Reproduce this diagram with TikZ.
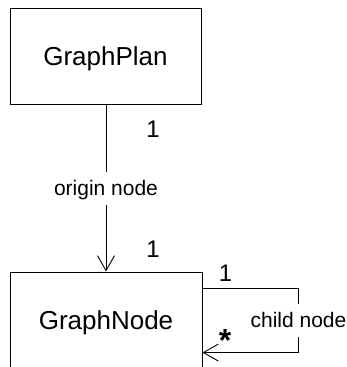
\documentclass[tikz,border=0pt]{standalone}
\usepackage{fontspec}
\setmainfont{Liberation Sans}
\usetikzlibrary{arrows.meta}
\begin{document}
\begin{tikzpicture}[x=1pt,y=-1pt,
  box/.style={draw, line width=0.9pt, rectangle, inner sep=0pt},
  cls/.style={font=\fontsize{26}{30}\selectfont, anchor=base, inner sep=0pt},
  mult/.style={font=\fontsize{24}{28}\selectfont, anchor=base, inner sep=0pt},
  star/.style={font=\fontsize{32}{36}\selectfont\bfseries, anchor=base, inner sep=0pt},
  role/.style={font=\fontsize{21}{25}\selectfont, fill=white, text height=19pt, text depth=4.5pt, inner xsep=2pt, inner ysep=4.75pt},
  assoc/.style={line width=0.9pt, -{Straight Barb[length=15pt,width=17pt]}}]
\useasboundingbox (0,0) rectangle (346,367);
\clip (0,0) rectangle (346,367);
\fill[white] (0,0) rectangle (346,367);
% class boxes
\node[box, minimum width=191pt, minimum height=96pt] (gp) at (105.5,56) {};
\node[box, minimum width=192pt, minimum height=200pt] (gn) at (106,372) {};
\node[cls] (gpt) at (105.5,65) {GraphPlan};
\node[cls] (gnt) at (106,329) {GraphNode};
% association GraphPlan -> GraphNode
\draw[assoc] (gn.north |- gp.south) -- node[role] (on) {origin node} (gn.north);
% self association
\coordinate (ls) at ([yshift=-17pt]gn.north east);
\coordinate (le) at ([yshift=-81pt]gn.north east);
\draw[assoc] (ls) -- ++(96,0) -- node[role] (cn) {child node} ++(0,64) -- (le);
% multiplicities
\node[mult] (m1) at (153,137) {1};
\node[mult] (m2) at (153,257) {1};
\node[mult] (m3) at (225.5,281.5) {1};
\node[star] (m4) at (225,351) {*};
\end{tikzpicture}
\end{document}
